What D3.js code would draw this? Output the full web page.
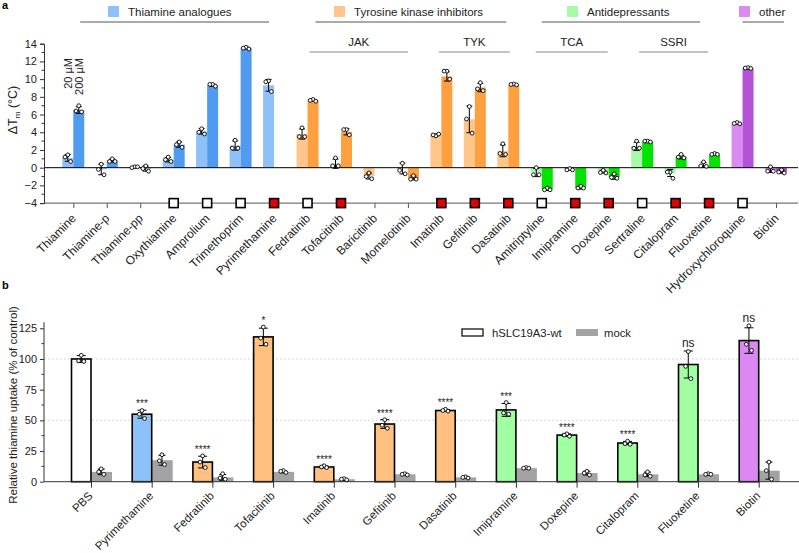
<!DOCTYPE html>
<html><head><meta charset="utf-8">
<script src="https://cdn.jsdelivr.net/npm/d3@7"></script>
<style>
body{margin:0;background:#fff;}
svg{font-family:"Liberation Sans",Arial,sans-serif;}
</style></head>
<body><svg id="c" width="799" height="553"></svg>
<script>
// ---------- Panel a data ----------
const catsA = ["Thiamine","Thiamine-p","Thiamine-pp","Oxythiamine","Amprolium","Trimethoprim","Pyrimethamine",
  "Fedratinib","Tofacitinib","Baricitinib","Momelotinib","Imatinib","Gefitinib","Dasatinib",
  "Amitriptyline","Imipramine","Doxepine","Sertraline","Citalopram","Fluoxetine","Hydroxychloroquine","Biotin"];
const groupA = ["thi","thi","thi","thi","thi","thi","thi","tki","tki","tki","tki","tki","tki","tki",
  "ad","ad","ad","ad","ad","ad","oth","oth"];
const low20 = [1.1,-0.2,0.05,0.9,4.1,2.5,9.3,3.8,0.45,-0.95,-0.1,3.7,5.45,1.9,-0.55,-0.2,-0.45,2.4,-0.6,0.3,5.0,-0.25];
const high200 = [6.5,0.8,-0.1,2.6,9.3,13.5,null,7.6,4.05,null,-1.15,10.3,9.05,9.35,-2.45,-2.3,-1.05,2.95,1.2,1.5,11.2,-0.45];
const low20Pts = [[1.45,1.2,0.7],[0.4,-0.2,-0.8],[0.1,0.0,0.1],[1.2,0.9,0.7],[4.4,4.0,3.8],[3.1,2.2,2.2],[9.8,9.7,8.6],
  [4.5,3.5,3.5],[1.1,0.2,0.2],[-0.6,-1.0,-1.25],[0.5,-0.3,-0.7],[3.6,3.7,3.8],[6.9,5.5,3.9],[2.7,1.6,1.5],
  [0.0,-0.8,-0.8],[-0.1,-0.25,-0.25],[-0.3,-0.55,-0.6],[3.0,2.2,2.2],[-0.5,-0.5,-1.2],[0.65,0.2,0.15],[5.1,5.0,4.95],[0.1,-0.4,-0.4]];
const high200Pts = [[7.0,6.4,6.3],[1.0,0.7,0.7],[0.2,-0.1,-0.4],[2.9,2.6,2.3],[9.4,9.4,9.2],[13.6,13.5,13.4],null,
  [7.7,7.6,7.5],[4.3,4.3,3.7],null,[-0.9,-1.3,-1.3],[10.9,10.9,10.0],[9.6,8.9,8.7],[9.45,9.4,9.35],
  [-2.3,-2.5,-2.5],[-2.1,-2.3,-2.3],[-0.7,-1.1,-1.2],[3.0,3.0,2.9],[1.5,1.2,1.1],[1.6,1.5,1.5],[11.3,11.25,11.2],[-0.25,-0.5,-0.6]];
// markers on the bottom axis: w = open square, r = red square
const markerA = [null,null,null,"w","w","w","r","w","r",null,null,"r","r","r","w","r","r","w","r","r","w",null];
const yTicksA = [-4,-2,0,2,4,6,8,10,12,14];

// group headers
const groupHeaders = [
  {key:"thi", label:"Thiamine analogues", x1:"Thiamine", x2:"Pyrimethamine"},
  {key:"tki", label:"Tyrosine kinase inhibitors", x1:"Fedratinib", x2:"Dasatinib"},
  {key:"ad", label:"Antidepressants", x1:"Amitriptyline", x2:"Fluoxetine"},
  {key:"oth", label:"other", x1:"Hydroxychloroquine", x2:"Biotin"}];
const subHeaders = [
  {label:"JAK", x1:"Fedratinib", x2:"Momelotinib"},
  {label:"TYK", x1:"Imatinib", x2:"Dasatinib"},
  {label:"TCA", x1:"Amitriptyline", x2:"Doxepine"},
  {label:"SSRI", x1:"Sertraline", x2:"Fluoxetine"}];

// ---------- Panel b data ----------
const catsB = ["PBS","Pyrimethamine","Fedratinib","Tofacitinib","Imatinib","Gefitinib","Dasatinib","Imipramine","Doxepine","Citalopram","Fluoxetine","Biotin"];
const groupB = ["pbs","thi","tki","tki","tki","tki","tki","ad","ad","ad","ad","oth"];
const wtVals = [100,55,16,118,12,47,58,58.5,38,31.5,95.5,115];
const wtPts = [[103,98.5,98],[58,55,51.5],[21,16,11.5],[126,117,112],[13,12,11.5],[50.5,46,43.5],[59,58,57.5],[64.5,56,55],[39,38,37],[33,31,30.5],[106,94,84],[127,112,107]];
const mockVals = [8,17.5,3.5,8,2,6,3.5,11,7,6,6,9];
const mockPts = [[10.5,8,6],[22,17,14],[6.5,3,2],[9,8.5,7.5],[2.5,2,1.5],[6.5,6,5.5],[4,3.5,3],[11.5,11,11],[8.5,7,5.5],[8,5.5,4.5],[6.5,6,6],[16,9,2]];
const sigB = ["","***","****","*","****","****","****","***","****","****","ns","ns"];
const yTicksB = [0,25,50,75,100,125];

// ---------- colours ----------
const lightCol = {thi:"#8ec1f8", tki:"#ffc589", ad:"#a6f9a6", oth:"#da8af0"};
const darkCol = {thi:"#509bf0", tki:"#ffa040", ad:"#00e400", oth:"#b452d8"};
const bCol = {pbs:"#ffffff", thi:"#8ec1f8", tki:"#ffc080", ad:"#a0ffa0", oth:"#dd88f2"};

const svg = d3.select("#c");
const font = "Liberation Sans, Arial, sans-serif";

// ================= PANEL A =================
const xA = d3.scalePoint().domain(catsA).range([73.3, 776]);
const yA = d3.scaleLinear().domain([-4,14]).range([203.1, 43.7]);
const bwA = 11;
const gA = svg.append("g");

svg.append("text").attr("x",2).attr("y",9).text("a").attr("font-size",11).attr("font-weight","bold");

// bars
catsA.forEach((c,i)=>{
  const x = xA(c);
  const items = [{v:low20[i], x0:x-bwA, col:lightCol[groupA[i]]},
                 {v:high200[i], x0:x, col:darkCol[groupA[i]]}];
  items.forEach(it=>{
    if(it.v===null) return;
    gA.append("rect").attr("x",it.x0).attr("width",bwA)
      .attr("y",Math.min(yA(it.v),yA(0))).attr("height",Math.abs(yA(it.v)-yA(0)))
      .attr("fill",it.col);
  });
});
// zero line and bottom axis line
gA.append("line").attr("x1",44).attr("x2",798).attr("y1",yA(0)).attr("y2",yA(0)).attr("stroke","#000").attr("stroke-width",1);
gA.append("line").attr("x1",44).attr("x2",798).attr("y1",yA(-4)).attr("y2",yA(-4)).attr("stroke","#555").attr("stroke-width",1);

// error bars + points
catsA.forEach((c,i)=>{
  const x = xA(c);
  const items = [{v:low20[i], pts:low20Pts[i], cx:x-bwA/2},{v:high200[i], pts:high200Pts[i], cx:x+bwA/2}];
  items.forEach(it=>{
    if(it.v===null) return;
    const sd = d3.deviation(it.pts), m = it.v;
    const y1 = yA(m+sd), y2 = yA(m-sd);
    gA.append("line").attr("x1",it.cx).attr("x2",it.cx).attr("y1",y1).attr("y2",y2).attr("stroke","#000").attr("stroke-width",1);
    [y1,y2].forEach(yy=>gA.append("line").attr("x1",it.cx-3).attr("x2",it.cx+3).attr("y1",yy).attr("y2",yy).attr("stroke","#000").attr("stroke-width",1));
    const off = [0,-2.8,2.8];
    it.pts.forEach((p,k)=>gA.append("circle").attr("cx",it.cx+off[k]).attr("cy",yA(p)).attr("r",1.9)
      .attr("fill","#fff").attr("stroke","#000").attr("stroke-width",0.9));
  });
});

// y axis
const yAxA = d3.axisLeft(yA).tickValues(yTicksA).tickSize(4).tickPadding(3).tickFormat(d3.format("d"));
const gyA = gA.append("g").attr("transform","translate(44,0)").call(yAxA);
gyA.selectAll("text").attr("font-size",11).attr("font-family",font).attr("fill","#222");
gyA.select(".domain").attr("stroke","#333");
gyA.selectAll(".tick line").attr("stroke","#333");
d3.range(-3,14,2).forEach(v=>gA.append("line").attr("x1",41.5).attr("x2",44).attr("y1",yA(v)).attr("y2",yA(v)).attr("stroke","#333"));

// x axis at -4
const xAxA = d3.axisBottom(xA).tickSize(5).tickFormat(d=>d);
const gxA = gA.append("g").attr("transform",`translate(0,${yA(-4)})`).call(xAxA);
gxA.select(".domain").remove();
gxA.selectAll(".tick line").attr("stroke","#555");
gxA.selectAll("text").attr("font-size",12).attr("font-family",font).attr("fill","#222")
  .attr("text-anchor","end").attr("dy","0.35em").attr("y",0)
  .attr("transform","translate(0,13) rotate(-45)");

// markers
catsA.forEach((c,i)=>{
  if(!markerA[i]) return;
  gA.append("rect").attr("x",xA(c)-4.5).attr("y",yA(-4)-4.5).attr("width",9).attr("height",9)
    .attr("fill",markerA[i]==="r"?"#e50000":"#fff").attr("stroke","#000").attr("stroke-width",1.6);
});

// y label
const ylA = gA.append("text").attr("transform","translate(17,110) rotate(-90)").attr("text-anchor","middle")
  .attr("font-size",12.5).attr("fill","#222");
ylA.append("tspan").text("ΔT");
ylA.append("tspan").text("m").attr("font-size",8).attr("dy",3);
ylA.append("tspan").text(" (°C)").attr("dy",-3);

// concentration labels
gA.append("text").attr("transform",`translate(${xA("Thiamine")-bwA/2+4},58) rotate(-90)`).attr("text-anchor","end")
  .attr("font-size",11).attr("fill","#222").text("20 µM");
gA.append("text").attr("transform",`translate(${xA("Thiamine")+bwA/2+4},58) rotate(-90)`).attr("text-anchor","end")
  .attr("font-size",11).attr("fill","#222").text("200 µM");

// group headers (line extents: offsets in px from the first/last category)
const hdrLine = {thi:[7,-5], tki:[8,-2], ad:[0,-9], oth:[0,8]};
const hdrPos = {thi:108, tki:334, ad:567, oth:739};
groupHeaders.forEach(g=>{
  const x1 = xA(g.x1)+hdrLine[g.key][0], x2 = xA(g.x2)+hdrLine[g.key][1];
  gA.append("line").attr("x1",x1).attr("x2",x2).attr("y1",22).attr("y2",22).attr("stroke","#555").attr("stroke-width",1);
  const sx = hdrPos[g.key];
  gA.append("rect").attr("x",sx).attr("y",6).attr("width",11).attr("height",11).attr("fill",lightCol[g.key]);
  gA.append("text").attr("x",sx+20).attr("y",16).attr("font-size",11.5).attr("fill","#222").text(g.label);
});
const subLine = [[2,0],[-2.5,1.5],[-6,-1],[-3,-1]];
subHeaders.forEach((s,i)=>{
  const x1 = xA(s.x1)+subLine[i][0], x2 = xA(s.x2)+subLine[i][1];
  gA.append("line").attr("x1",x1).attr("x2",x2).attr("y1",52).attr("y2",52).attr("stroke","#888").attr("stroke-width",1.2);
  gA.append("text").attr("x",(x1+x2)/2).attr("y",46).attr("text-anchor","middle").attr("font-size",11.5).attr("fill","#222").text(s.label);
});

// ================= PANEL B =================
const xB = d3.scalePoint().domain(catsB).range([91, 758.7]);
const yB = d3.scaleLinear().domain([0,125]).range([481.7, 328.3]);
const bwB = 19.5;
const gB = svg.append("g");
svg.append("text").attr("x",2).attr("y",289).text("b").attr("font-size",11).attr("font-weight","bold");

// gridlines
[50,100].forEach(v=>gB.append("line").attr("x1",44).attr("x2",799).attr("y1",yB(v)).attr("y2",yB(v))
  .attr("stroke","#ccc").attr("stroke-width",1).attr("stroke-dasharray","1.5,2.5"));

catsB.forEach((c,i)=>{
  const x = xB(c);
  gB.append("rect").attr("x",x+0.5).attr("width",bwB+1).attr("y",yB(mockVals[i])).attr("height",yB(0)-yB(mockVals[i])).attr("fill","#a3a3a5");
  gB.append("rect").attr("x",x-bwB).attr("width",bwB).attr("y",yB(wtVals[i])).attr("height",yB(0)-yB(wtVals[i]))
    .attr("fill",bCol[groupB[i]]).attr("stroke","#000").attr("stroke-width",1.6);
});
// axis
gB.append("line").attr("x1",44).attr("x2",799).attr("y1",yB(0)).attr("y2",yB(0)).attr("stroke","#333");
const gxB = gB.append("g").attr("transform",`translate(0,${yB(0)})`).call(d3.axisBottom(xB).tickSize(6).tickFormat(d=>d));
gxB.select(".domain").remove();
gxB.selectAll(".tick line").attr("stroke","#333");
gxB.selectAll("text").attr("font-size",11.5).attr("font-family",font).attr("fill","#222")
  .attr("text-anchor","end").attr("dy","0.35em").attr("y",0)
  .attr("transform","translate(-1,12) rotate(-45)");

// error bars, points, significance
catsB.forEach((c,i)=>{
  const x = xB(c);
  const sets = [{v:wtVals[i],pts:wtPts[i],cx:x-bwB/2,cap:4.5},{v:mockVals[i],pts:mockPts[i],cx:x+bwB/2+0.5,cap:3.5}];
  sets.forEach((s,j)=>{
    const sd = d3.deviation(s.pts);
    const y1 = yB(s.v+sd), y2 = yB(Math.max(0,s.v-sd));
    gB.append("line").attr("x1",s.cx).attr("x2",s.cx).attr("y1",y1).attr("y2",y2).attr("stroke","#000");
    [y1,y2].forEach(yy=>gB.append("line").attr("x1",s.cx-s.cap).attr("x2",s.cx+s.cap).attr("y1",yy).attr("y2",yy).attr("stroke","#000"));
    const off = [0,-2.6,2.6];
    s.pts.forEach((p,k)=>gB.append("circle").attr("cx",s.cx+off[k]).attr("cy",yB(p)).attr("r",1.9)
      .attr("fill","#fff").attr("stroke","#000").attr("stroke-width",0.9));
    if(j===0 && sigB[i]){
      const top = Math.min(y1, yB(d3.max(s.pts)));
      const isNs = sigB[i]==="ns";
      gB.append("text").attr("x",s.cx).attr("y",top-(isNs?4:3)).attr("text-anchor","middle")
        .attr("font-size",isNs?12:10).attr("fill","#222").text(sigB[i]);
    }
  });
});

// y axis
const gyB = gB.append("g").attr("transform","translate(44,0)")
  .call(d3.axisLeft(yB).tickValues(yTicksB).tickSize(4).tickPadding(3));
gyB.select(".domain").remove();
gyB.selectAll("text").attr("font-size",11).attr("font-family",font).attr("fill","#222");
gyB.selectAll(".tick line").attr("stroke","#333");
gB.append("line").attr("x1",44).attr("x2",44).attr("y1",yB(0)).attr("y2",yB(130)).attr("stroke","#333");
d3.range(12.5,130,25).forEach(v=>gB.append("line").attr("x1",41.5).attr("x2",44).attr("y1",yB(v)).attr("y2",yB(v)).attr("stroke","#333"));

gB.append("text").attr("transform","translate(17,405) rotate(-90)").attr("text-anchor","middle")
  .attr("font-size",11.5).attr("fill","#222").text("Relative thiamine uptake (% of control)");

// legend
gB.append("rect").attr("x",462).attr("y",329).attr("width",21).attr("height",7).attr("fill","#fff").attr("stroke","#000").attr("stroke-width",1.2);
gB.append("text").attr("x",492).attr("y",337).attr("font-size",11.3).attr("fill","#222").text("hSLC19A3-wt");
gB.append("rect").attr("x",576).attr("y",329).attr("width",22).attr("height",7).attr("fill","#a3a3a5");
gB.append("text").attr("x",604).attr("y",337).attr("font-size",11.3).attr("fill","#222").text("mock");
</script></body></html>
